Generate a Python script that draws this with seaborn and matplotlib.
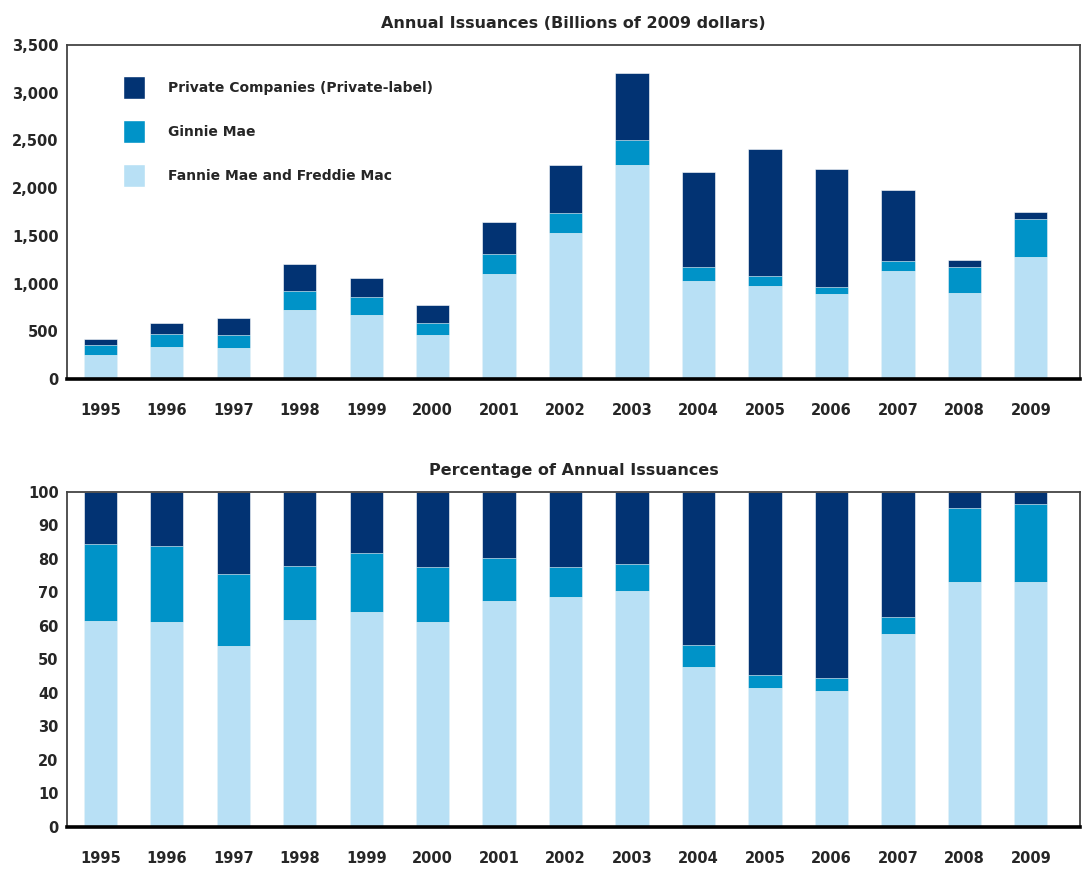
import numpy as np
import pandas as pd
import seaborn as sns
import matplotlib.pyplot as plt
from matplotlib.patches import Patch

# Data
years = [str(y) for y in range(1995, 2010)]

# Billions of 2009 dollars, by issuer
fannie_freddie = [251, 339, 322, 723, 667, 458, 1100, 1533, 2246, 1023, 978, 887, 1128, 905, 1275]
ginnie = [102, 133, 136, 196, 192, 132, 207, 207, 255, 151, 105, 77, 105, 269, 405]
private = [69, 118, 178, 283, 196, 182, 341, 506, 702, 998, 1327, 1237, 744, 73, 73]

# Percentage of annual issuances
pct_fannie_freddie = [61.5, 61.1, 53.9, 61.9, 64.1, 61.1, 67.5, 68.7, 70.5, 47.8, 41.4, 40.6, 57.6, 73.0, 73.0]
pct_ginnie = [23.0, 22.9, 21.6, 16.1, 17.8, 16.5, 12.7, 8.9, 7.9, 6.4, 3.9, 3.8, 5.2, 22.1, 23.4]
pct_private = [15.5, 16.0, 24.5, 22.0, 18.1, 22.4, 19.8, 22.4, 21.6, 45.8, 54.7, 55.6, 37.2, 4.9, 3.6]

labels = ["Private Companies (Private-label)", "Ginnie Mae", "Fannie Mae and Freddie Mac"]
colors = ["#023373", "#0093C8", "#B8E0F5"]

sns.set_style("white")
plt.rcParams['font.family'] = ['DejaVu Sans']
plt.rcParams['font.weight'] = 'bold'


def stacked(ax, fannie, gin, priv):
    # cumulative tops, drawn from tallest to shortest so they stack
    df = pd.DataFrame({"year": years, "fannie": fannie, "ginnie": gin, "private": priv})
    df["mid"] = df["fannie"] + df["ginnie"]
    df["total"] = df["mid"] + df["private"]
    for col, c in zip(["total", "mid", "fannie"], colors):
        sns.barplot(data=df, x="year", y=col, color=c, width=0.5, ax=ax,
                    saturation=1, edgecolor="white", linewidth=0.4)
    ax.set_xlim(-0.5, 14.74)
    ax.set_xlabel("")
    ax.set_ylabel("")
    ax.tick_params(axis="y", direction="in", length=9, width=1.3, color="#333333",
                   pad=6, labelsize=10.5)
    ax.tick_params(axis="x", length=0, pad=17, labelsize=10.5)
    for s in ax.spines.values():
        s.set_color("#444444")
        s.set_linewidth(1.3)
    ax.spines["bottom"].set_color("black")
    ax.spines["bottom"].set_linewidth(2.6)


fig = plt.figure(figsize=(10.86, 8.75), dpi=100)
ax1 = fig.add_axes([0.0617, 0.5669, 0.9328, 0.3817])
ax2 = fig.add_axes([0.0617, 0.0549, 0.9328, 0.3829])

# Top chart: dollar amounts
stacked(ax1, fannie_freddie, ginnie, private)
ax1.set_ylim(0, 3500)
ax1.set_yticks(np.arange(0, 3501, 500))
ax1.set_yticklabels([f"{v:,}" for v in range(0, 3501, 500)])
ax1.set_title("Annual Issuances (Billions of 2009 dollars)", fontsize=11.5,
              fontweight="bold", pad=12)

handles = [Patch(facecolor=c, edgecolor="white") for c in colors]
ax1.legend(handles, labels, loc="upper left", frameon=False, fontsize=10,
           bbox_to_anchor=(0.05, 0.925), borderaxespad=0, handlelength=1.6,
           handleheight=2.2, labelspacing=1.5, handletextpad=1.6)

# Bottom chart: shares
stacked(ax2, pct_fannie_freddie, pct_ginnie, pct_private)
ax2.set_ylim(0, 100)
ax2.set_yticks(np.arange(0, 101, 10))
ax2.set_title("Percentage of Annual Issuances", fontsize=11.5, fontweight="bold", pad=12)

plt.savefig("out.png", dpi=100)
